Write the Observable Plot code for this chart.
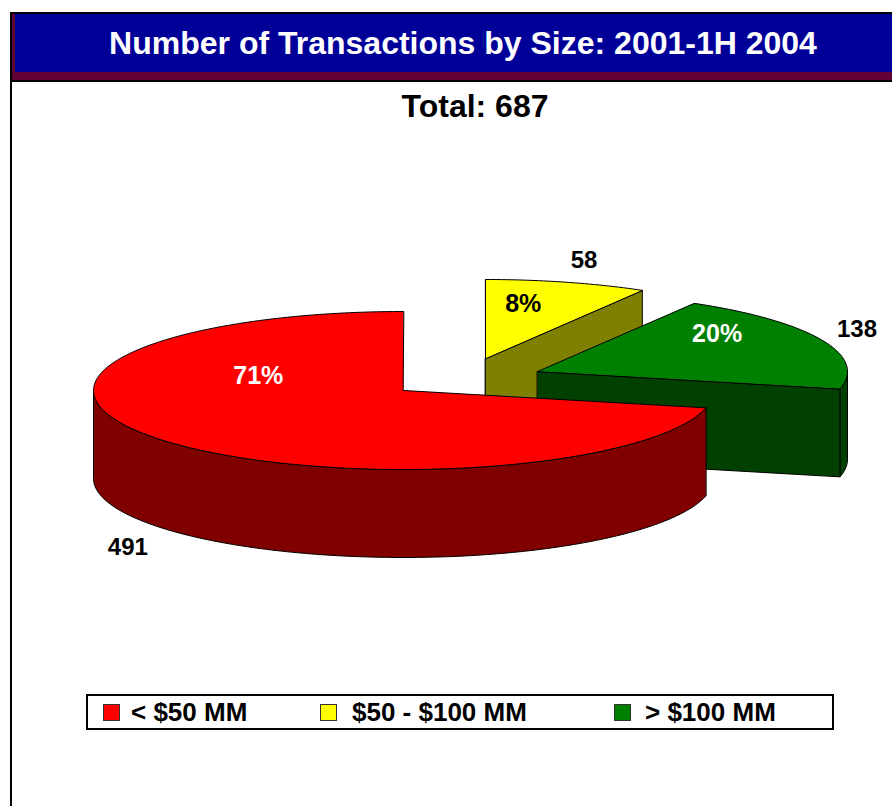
<!DOCTYPE html>
<html>
<head>
<meta charset="utf-8">
<script src="https://cdn.jsdelivr.net/npm/d3@7"></script>
<script src="https://cdn.jsdelivr.net/npm/@observablehq/plot@0.6"></script>
<style>
  html, body { margin: 0; padding: 0; background: #fff; }
  body { font-family: "Liberation Sans", Arial, sans-serif; }
  #page { position: relative; width: 892px; height: 806px; overflow: hidden; background: #fff; }
  #frameLeft { position: absolute; left: 10px; top: 12px; width: 2px; height: 800px; background: #000; }
  #titleFrame { position: absolute; left: 10px; top: 12px; width: 882px; height: 70px; box-sizing: border-box;
    background: #600033; border-top: 2px solid #000; border-left: 2px solid #000; border-bottom: 2px solid #000; }
  #titleBar { position: absolute; left: 15px; top: 14px; width: 877px; height: 58px; background: #000099; }
  #title { position: absolute; left: 0; width: 926px; top: 14px; height: 58px; line-height: 58px; text-align: center;
    color: #fff; font-weight: bold; font-size: 32px; white-space: nowrap; }
  #subtitle { position: absolute; left: 0; width: 950px; top: 86px; height: 40px; line-height: 40px; text-align: center;
    color: #000; font-weight: bold; font-size: 32px; }
  #chart { position: absolute; left: 0; top: 82px; }
  #legend { position: absolute; left: 86px; top: 694px; width: 748px; height: 36px; box-sizing: border-box; border: 2px solid #000; background: #fff; }
  .lg-sw { position: absolute; top: 704px; width: 17px; height: 17px; box-sizing: border-box; border: 1px solid #333; }
  .lg-tx { position: absolute; top: 697px; height: 30px; line-height: 30px; font-weight: bold; font-size: 26px; color: #000; white-space: nowrap; }
</style>
</head>
<body>
<div id="page">
  <div id="frameLeft"></div>
  <div id="titleFrame"></div>
  <div id="titleBar"></div>
  <div id="title">Number of Transactions by Size: 2001-1H 2004</div>
  <div id="subtitle"></div>
  <div id="chart"></div>
  <div id="legend"></div>
</div>
<script>
// ---- data ----
const categories = ["< $50 MM", "$50 - $100 MM", "> $100 MM"];
const counts = [491, 58, 138];
const topColors = ["#ff0000", "#ffff00", "#008000"];
const sideColors = ["#800000", "#808000", "#004000"];
const pctColors = ["#ffffff", "#000000", "#ffffff"];

// ---- layout (page pixels) ----
const total = d3.sum(counts);
const firstSliceAngle = 102.7;           // degrees clockwise from 12 o'clock
const CX = 403, CY = 390, RX = 310, RY = 79, DEPTH = 88;
const explode = [[0, 0], [82, -32], [134, -19]];
const pctK = 0.6, valK = 1.25;
const pctNudge = [[0, -44], [-11, -9], [9, -19]];
const valNudge = [[27, 7], [-3, -3], [-36, -3]];
const legendX = [[103, 131], [320, 352], [614, 645]];

document.getElementById("subtitle").textContent = `Total: ${total}`;

const rad = d => d * Math.PI / 180;
let acc = firstSliceAngle;
const slices = counts.map((v, i) => {
  const a0 = acc, a1 = acc + v / total * 360;
  acc = a1;
  return {i, v, a0, a1, cx: CX + explode[i][0], cy: CY + explode[i][1]};
});
const pt = (s, t, k = 1, dz = 0) => [s.cx + k * RX * Math.sin(rad(t)), s.cy - k * RY * Math.cos(rad(t)) + dz];
const arc = (s, t0, t1, dz = 0) => {
  const n = Math.max(2, Math.ceil(Math.abs(t1 - t0)));
  return d3.range(n + 1).map(j => pt(s, t0 + (t1 - t0) * j / n, 1, dz));
};

const rows = [];
let pid = 0;
const addPoly = (points, fill) => { const id = pid++; points.forEach(([x, y]) => rows.push({poly: id, x, y, fill})); };

const order = [...slices].sort((a, b) => a.cy - b.cy);
for (const s of order) {
  const c = [s.cx, s.cy], cD = [s.cx, s.cy + DEPTH];
  // outer rim where it faces the viewer (cos < 0)
  for (let k = -1; k <= 2; k++) {
    const lo = Math.max(s.a0, 90 + 360 * k), hi = Math.min(s.a1, 270 + 360 * k);
    if (hi - lo > 0.01) addPoly([...arc(s, lo, hi), ...arc(s, hi, lo, DEPTH)], sideColors[s.i]);
  }
  // cut faces
  if (Math.sin(rad(s.a0)) < -1e-6) addPoly([c, pt(s, s.a0), pt(s, s.a0, 1, DEPTH), cD], sideColors[s.i]);
  if (Math.sin(rad(s.a1)) > 1e-6) addPoly([c, pt(s, s.a1), pt(s, s.a1, 1, DEPTH), cD], sideColors[s.i]);
  // top face
  addPoly([c, ...arc(s, s.a0, s.a1)], topColors[s.i]);
}

const pctRows = slices.map(s => {
  const m = (s.a0 + s.a1) / 2, [x, y] = pt(s, m, pctK);
  return {x: x + pctNudge[s.i][0], y: y + pctNudge[s.i][1], text: `${Math.round(s.v / total * 100)}%`, color: pctColors[s.i]};
});
const valRows = slices.map(s => {
  const m = (s.a0 + s.a1) / 2, [x, y] = pt(s, m, valK, Math.cos(rad(m)) < 0 ? DEPTH : 0);
  return {x: x + valNudge[s.i][0], y: y + valNudge[s.i][1], text: String(s.v)};
});

const chart = Plot.plot({
  width: 892, height: 600, margin: 0,
  style: {background: "transparent", fontFamily: "Liberation Sans, Arial, sans-serif"},
  x: {domain: [0, 892], range: [0, 892], axis: null},
  y: {domain: [82, 682], range: [0, 600], axis: null},
  color: {type: "identity"},
  marks: [
    Plot.line(rows, {x: "x", y: "y", z: "poly", fill: "fill", stroke: "#000", strokeWidth: 1, curve: "linear-closed", strokeLinejoin: "round"}),
    Plot.text(pctRows, {x: "x", y: "y", text: "text", fill: "color", fontSize: 25, fontWeight: "bold"}),
    Plot.text(valRows, {x: "x", y: "y", text: "text", fill: "#000", fontSize: 24, fontWeight: "bold"})
  ]
});
document.getElementById("chart").appendChild(chart);

// legend
const page = document.getElementById("page");
categories.forEach((c, i) => {
  const sw = document.createElement("div");
  sw.className = "lg-sw"; sw.style.left = legendX[i][0] + "px"; sw.style.background = topColors[i];
  page.appendChild(sw);
  const tx = document.createElement("div");
  tx.className = "lg-tx"; tx.style.left = legendX[i][1] + "px"; tx.textContent = c;
  page.appendChild(tx);
});
</script>
</body>
</html>
